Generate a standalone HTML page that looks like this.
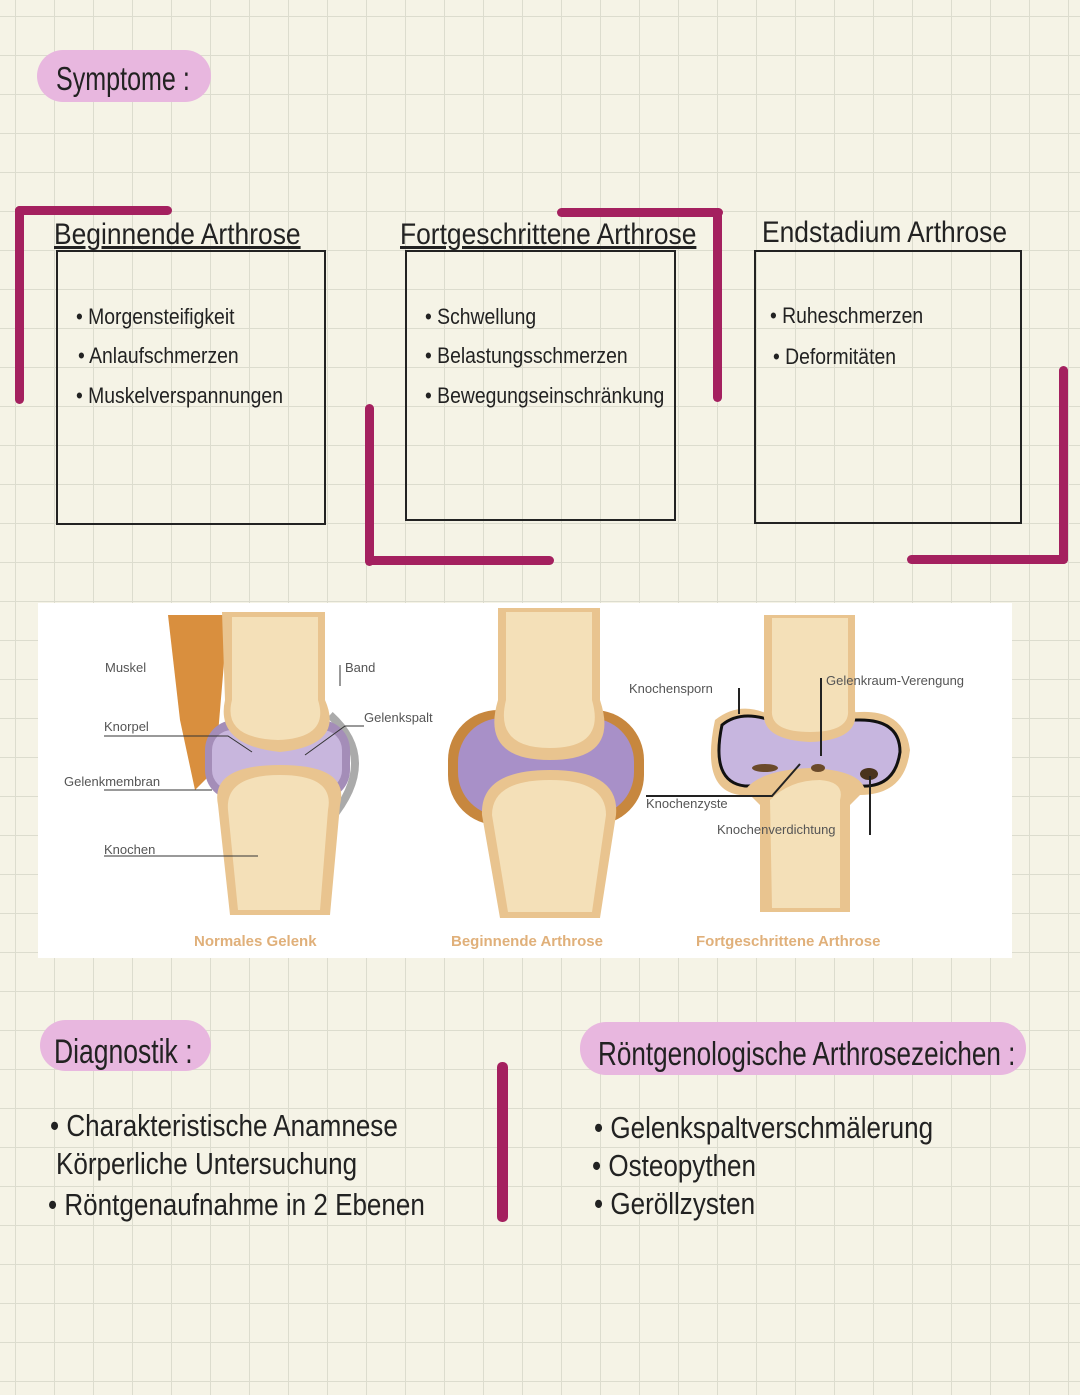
<!DOCTYPE html>
<html><head><meta charset="utf-8"><style>
body{margin:0;width:1080px;height:1395px;position:relative;overflow:hidden;background-color:#f5f3e6;
background-image:linear-gradient(#dcdcce 1px,transparent 1px),linear-gradient(90deg,#dcdcce 1px,transparent 1px);
background-size:39px 39px;background-position:15px 16px;font-family:"Liberation Sans",sans-serif;color:#222}
.a{position:absolute}
.pill{position:absolute;background:#e8b7df;border-radius:26px}
.h{position:absolute;font-size:30px;transform:scaleX(.88);transform-origin:left;white-space:nowrap}
.bar{position:absolute;background:#a4205f;border-radius:5px}
.box{position:absolute;border:2px solid #222}
.li{position:absolute;font-size:22px;transform:scaleX(.88);transform-origin:left;white-space:nowrap}
.big{position:absolute;font-size:31px;transform:scaleX(.84);transform-origin:left;white-space:nowrap}
</style></head><body>
<div class="pill" style="left:37px;top:50px;width:174px;height:52px"></div>
<div class="h" style="left:56px;top:60px;font-size:33px;transform:scaleX(.76)">Symptome :</div>

<div class="bar" style="left:15px;top:206px;width:9px;height:198px"></div>
<div class="bar" style="left:15px;top:206px;width:157px;height:9px"></div>
<div class="bar" style="left:365px;top:404px;width:9px;height:162px"></div>
<div class="bar" style="left:365px;top:556px;width:189px;height:9px"></div>
<div class="bar" style="left:557px;top:208px;width:166px;height:9px"></div>
<div class="bar" style="left:713px;top:208px;width:9px;height:194px"></div>
<div class="bar" style="left:1059px;top:366px;width:9px;height:198px"></div>
<div class="bar" style="left:907px;top:555px;width:161px;height:9px"></div>

<div class="box" style="left:56px;top:250px;width:266px;height:271px"></div>
<div class="box" style="left:405px;top:250px;width:267px;height:267px"></div>
<div class="box" style="left:754px;top:250px;width:264px;height:270px"></div>

<div class="h" style="left:54px;top:218px;text-decoration:underline;transform:scaleX(.88)">Beginnende Arthrose</div>
<div class="h" style="left:400px;top:218px;text-decoration:underline;transform:scaleX(.88)">Fortgeschrittene Arthrose</div>
<div class="h" style="left:762px;top:216px;transform:scaleX(.88)">Endstadium Arthrose</div>

<div class="li" style="left:76px;top:304px">• Morgensteifigkeit</div>
<div class="li" style="left:78px;top:343px">• Anlaufschmerzen</div>
<div class="li" style="left:76px;top:383px">• Muskelverspannungen</div>
<div class="li" style="left:425px;top:304px">• Schwellung</div>
<div class="li" style="left:425px;top:343px">• Belastungsschmerzen</div>
<div class="li" style="left:425px;top:383px">• Bewegungseinschränkung</div>
<div class="li" style="left:770px;top:303px">• Ruheschmerzen</div>
<div class="li" style="left:773px;top:344px">• Deformitäten</div>

<svg class="a" style="left:38px;top:603px" width="974" height="355" viewBox="38 603 974 355">
<rect x="38" y="603" width="974" height="355" fill="#fff"/>
<g font-family="Liberation Sans" font-size="13" fill="#555">
<path d="M168 615 L228 615 L215 770 L195 790 L180 720 Z" fill="#d98f3e"/>
<path d="M330 715 Q380 760 330 820" stroke="#aaa" stroke-width="8" fill="none"/>
<rect x="205" y="720" width="145" height="80" rx="30" fill="#a48db8"/>
<rect x="212" y="730" width="130" height="60" rx="20" fill="#c8b6dd"/>
<path d="M222 612 L325 612 L325 700 Q345 745 280 752 Q215 745 225 700 Z" fill="#e9c48f"/>
<path d="M232 617 L318 617 L318 700 Q330 738 278 740 Q222 738 232 700 Z" fill="#f4e0b8"/>
<path d="M218 805 Q210 765 280 765 Q350 765 340 805 L330 915 L230 915 Z" fill="#e9c48f"/>
<path d="M228 810 Q225 775 280 775 Q335 775 328 810 L320 910 L238 910 Z" fill="#f4e0b8"/>
<text x="105" y="672">Muskel</text><text x="345" y="672">Band</text>
<text x="364" y="722">Gelenkspalt</text><text x="104" y="731">Knorpel</text>
<text x="64" y="786">Gelenkmembran</text><text x="104" y="854">Knochen</text>
<path d="M104 736 L228 736 L252 752 M364 726 L345 726 L305 755 M340 686 L340 665 M104 790 L212 790 M104 856 L258 856" stroke="#333" fill="none"/>
<rect x="448" y="710" width="196" height="115" rx="50" fill="#c7873e"/>
<rect x="458" y="718" width="176" height="98" rx="44" fill="#a890c8"/>
<path d="M498 608 L600 608 L600 700 Q620 760 550 760 Q480 760 498 700 Z" fill="#e9c48f"/>
<path d="M506 612 L592 612 L592 700 Q606 748 550 748 Q494 748 506 700 Z" fill="#f4e0b8"/>
<path d="M482 815 Q480 770 550 770 Q620 770 616 815 L600 918 L500 918 Z" fill="#e9c48f"/>
<path d="M492 815 Q492 780 550 780 Q606 780 606 815 L592 912 L508 912 Z" fill="#f4e0b8"/>
<path d="M715 720 Q740 700 770 715 L860 712 Q905 710 910 750 Q905 795 860 795 L740 795 Q700 790 715 720 Z" fill="#e9c48f"/>
<path d="M722 725 Q740 710 770 720 L860 720 Q900 720 900 752 Q895 788 860 786 L745 786 Q710 782 722 725 Z" fill="#c7b6df" stroke="#111" stroke-width="3"/>
<path d="M764 615 L855 615 L855 710 Q860 740 810 742 Q760 740 764 710 Z" fill="#e9c48f"/>
<path d="M772 618 L848 618 L848 710 Q850 732 810 732 Q770 732 772 710 Z" fill="#f4e0b8"/>
<path d="M745 790 Q760 770 810 768 Q860 770 865 790 L850 805 L850 912 L760 912 L760 805 Z" fill="#e9c48f"/>
<path d="M770 800 Q790 780 820 780 Q845 782 840 800 L840 908 L772 908 Z" fill="#f4e0b8"/>
<ellipse cx="765" cy="768" rx="13" ry="4" fill="#6b4a2a"/><ellipse cx="818" cy="768" rx="7" ry="4" fill="#6b4a2a"/><ellipse cx="869" cy="774" rx="9" ry="6" fill="#4a331c"/>
<text x="629" y="693">Knochensporn</text><text x="826" y="685">Gelenkraum-Verengung</text>
<text x="646" y="808">Knochenzyste</text><text x="717" y="834">Knochenverdichtung</text>
<path d="M739 688 L739 714 M821 678 L821 756 M646 796 L772 796 L800 764 M870 776 L870 835" stroke="#222" stroke-width="2" fill="none"/>
</g>
<g font-family="Liberation Sans" font-size="15" font-weight="bold" fill="#e0b07a">
<text x="194" y="946">Normales Gelenk</text><text x="451" y="946">Beginnende Arthrose</text><text x="696" y="946">Fortgeschrittene Arthrose</text>
</g>
</svg>

<div class="pill" style="left:40px;top:1020px;width:171px;height:51px"></div>
<div class="h" style="left:54px;top:1033px;font-size:34px;transform:scaleX(.78)">Diagnostik :</div>
<div class="pill" style="left:580px;top:1022px;width:446px;height:53px"></div>
<div class="h" style="left:598px;top:1035px;font-size:33px;transform:scaleX(.79)">Röntgenologische Arthrosezeichen :</div>
<div class="bar" style="left:497px;top:1062px;width:11px;height:160px"></div>

<div class="big" style="left:50px;top:1108px">• Charakteristische Anamnese</div>
<div class="big" style="left:56px;top:1146px">Körperliche Untersuchung</div>
<div class="big" style="left:48px;top:1187px">• Röntgenaufnahme in 2 Ebenen</div>
<div class="big" style="left:594px;top:1110px">• Gelenkspaltverschmälerung</div>
<div class="big" style="left:592px;top:1148px">• Osteopythen</div>
<div class="big" style="left:594px;top:1186px">• Geröllzysten</div>
</body></html>
